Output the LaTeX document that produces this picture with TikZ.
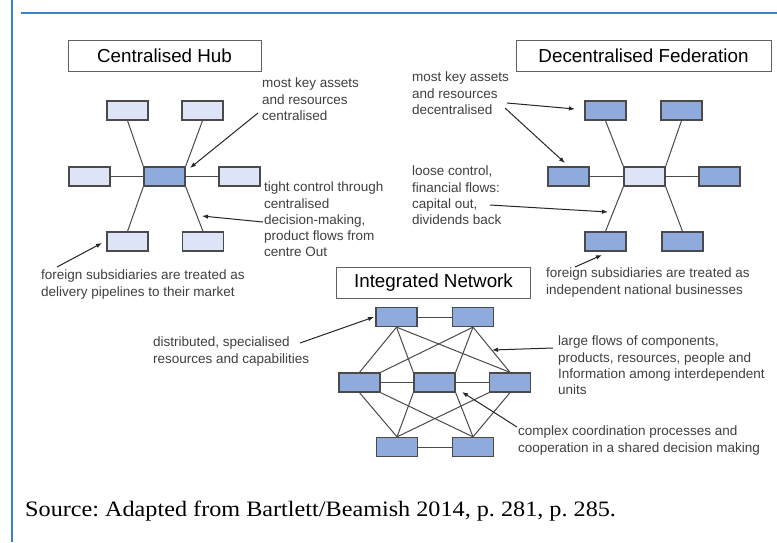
\documentclass[tikz,border=0pt]{standalone}
\usepackage{fontspec}
\setmainfont{Liberation Sans}
\newfontfamily\srcfont[FakeStretch=1.1]{Liberation Serif}
\usetikzlibrary{arrows.meta}
\definecolor{frameblue}{rgb}{0.235000,0.510000,0.784000}
\definecolor{unitlight}{rgb}{0.867000,0.894000,0.973000}
\definecolor{unitdark}{rgb}{0.561000,0.667000,0.863000}
\definecolor{edgegray}{rgb}{0.290000,0.290000,0.290000}
\definecolor{titlegray}{rgb}{0.380000,0.380000,0.380000}
\definecolor{notegray}{rgb}{0.250000,0.250000,0.250000}
\tikzset{
  unit/.style={draw=edgegray, line width=1.3pt, inner sep=0pt,
    minimum width=41pt, minimum height=19pt},
  light/.style={unit, fill=unitlight},
  dark/.style={unit, fill=unitdark},
  titlebox/.style={draw=titlegray, line width=1pt, fill=white, inner sep=0pt,
    minimum height=31pt, font=\fontsize{18.8}{22}\selectfont},
  note/.style={anchor=north west, inner sep=0pt, align=left, text=notegray,
    font=\fontsize{13.5}{16.2}\selectfont},
  link/.style={draw=edgegray, line width=1pt},
  pointer/.style={draw=black!85, line width=1pt, -{Latex[length=6pt,width=4.5pt]}}
}
\begin{document}
\frenchspacing
\begin{tikzpicture}[x=1pt, y=-1pt]
\useasboundingbox (0.000000,0.000000) rectangle (777.000000,542.000000);%

% Page frame lines
\fill [white] (0.000000,0.000000) rectangle (777.000000,542.000000);%
\draw [frameblue, line width=2pt] (12.000000,0.000000) -- (12.000000,542.000000);%
\draw [frameblue, line width=2.5pt] (21.000000,13.000000) -- (777.000000,13.000000);%

% ---------------- Centralised hub ----------------
\node [titlebox, minimum width=193pt] (hubtitle) at (164.500000,55.500000) {Centralised Hub};%

% Marking the units of the hub
\node [light] (hubtl) at (127.500000,110.500000) {};%
\node [light] (hubtr) at (202.500000,110.500000) {};%
\node [light] (hubl) at (89.500000,176.500000) {};%
\node [dark] (hubc) at (164.500000,176.500000) {};%
\node [light] (hubr) at (239.500000,176.500000) {};%
\node [light] (hubbl) at (127.500000,241.500000) {};%
\node [light] (hubbr) at (203.000000,241.500000) {};%

% Drawing spokes of the hub
\draw [link] (hubtl.south) -- (hubc.north west);%
\draw [link] (hubtr.south) -- (hubc.north east);%
\draw [link] (hubbl.north) -- (hubc.south west);%
\draw [link] (hubbr.north) -- (hubc.south east);%
\draw [link] (hubl.east) -- (hubc.west);%
\draw [link] (hubc.east) -- (hubr.west);%

% Marking notes of the hub
\node [note] (hubassets) at (262.000000,78.000000) {most key assets\\and resources\\centralised};%
\node [note] (hubcontrol) at (264.000000,182.000000) {tight control through\\centralised\\decision-making,\\product flows from\\centre Out};%
\node [note] (hubforeign) at (41.000000,270.000000) {foreign subsidiaries are treated as\\delivery pipelines to their market};%

\coordinate (hubassetsfrom) at (258.000000,113.000000);%
\coordinate (hubassetsto) at (190.000000,168.000000);%
\coordinate (hubcontrolfrom) at (263.000000,222.000000);%
\coordinate (hubcontrolto) at (202.000000,216.000000);%
\coordinate (hubforeignfrom) at (57.000000,267.000000);%
\coordinate (hubforeignto) at (102.000000,243.000000);%
\draw [pointer] (hubassetsfrom) -- (hubassetsto);%
\draw [pointer] (hubcontrolfrom) -- (hubcontrolto);%
\draw [pointer] (hubforeignfrom) -- (hubforeignto);%

% ---------------- Decentralised federation ----------------
\node [titlebox, minimum width=255pt] (fedtitle) at (643.500000,55.500000) {Decentralised Federation};%

% Marking the units of the federation
\node [dark] (fedtl) at (605.500000,110.500000) {};%
\node [dark] (fedtr) at (681.500000,110.500000) {};%
\node [dark] (fedl) at (568.500000,176.500000) {};%
\node [light] (fedc) at (644.500000,176.500000) {};%
\node [dark] (fedr) at (719.500000,176.500000) {};%
\node [dark] (fedbl) at (605.500000,241.500000) {};%
\node [dark] (fedbr) at (682.500000,241.500000) {};%

% Drawing spokes of the federation
\draw [link] (fedtl.south) -- (fedc.north west);%
\draw [link] (fedtr.south) -- (fedc.north east);%
\draw [link] (fedbl.north) -- (fedc.south west);%
\draw [link] (fedbr.north) -- (fedc.south east);%
\draw [link] (fedl.east) -- (fedc.west);%
\draw [link] (fedc.east) -- (fedr.west);%

% Marking notes of the federation
\node [note] (fedassets) at (412.000000,72.000000) {most key assets\\and resources\\decentralised};%
\node [note] (fedcontrol) at (412.000000,166.000000) {loose control,\\financial flows:\\capital out,\\dividends back};%
\node [note] (fedforeign) at (546.000000,268.000000) {foreign subsidiaries are treated as\\independent national businesses};%

\coordinate (fedassetsfrom) at (507.000000,103.000000);%
\coordinate (fedassetsto) at (575.000000,109.000000);%
\coordinate (fedassetsfromb) at (505.000000,108.000000);%
\coordinate (fedassetstob) at (565.000000,163.000000);%
\coordinate (fedcontrolfrom) at (490.000000,205.000000);%
\coordinate (fedcontrolto) at (608.000000,212.000000);%
\coordinate (fedforeignfrom) at (575.000000,267.000000);%
\coordinate (fedforeignto) at (602.000000,255.000000);%
\draw [pointer] (fedassetsfrom) -- (fedassetsto);%
\draw [pointer] (fedassetsfromb) -- (fedassetstob);%
\draw [pointer] (fedcontrolfrom) -- (fedcontrolto);%
\draw [pointer] (fedforeignfrom) -- (fedforeignto);%

% ---------------- Integrated network ----------------
\node [titlebox, minimum width=194pt] (nettitle) at (433.500000,283.000000) {Integrated Network};%

% Marking the units of the network
\node [dark] (nettl) at (396.500000,317.000000) {};%
\node [dark] (nettr) at (473.000000,317.000000) {};%
\node [dark] (netml) at (359.500000,382.500000) {};%
\node [dark] (netc) at (434.500000,382.500000) {};%
\node [dark] (netmr) at (510.000000,382.500000) {};%
\node [dark] (netbl) at (397.000000,447.000000) {};%
\node [dark] (netbr) at (473.000000,447.000000) {};%

% Drawing links of the network
\draw [link] (nettl.east) -- (nettr.west);%
\draw [link] (netml.east) -- (netc.west);%
\draw [link] (netc.east) -- (netmr.west);%
\draw [link] (netbl.east) -- (netbr.west);%
\draw [link] (nettl.south) -- (netml.north);%
\draw [link] (nettl.south) -- (netc.north west);%
\draw [link] (nettl.south) -- (netmr.north);%
\draw [link] (nettr.south) -- (netml.north east);%
\draw [link] (nettr.south) -- (netc.north east);%
\draw [link] (nettr.south) -- (netmr.north);%
\draw [link] (netbl.north) -- (netml.south);%
\draw [link] (netbl.north) -- (netc.south west);%
\draw [link] (netbl.north) -- (netmr.south west);%
\draw [link] (netbr.north) -- (netml.south east);%
\draw [link] (netbr.north) -- (netc.south east);%
\draw [link] (netbr.north) -- (netmr.south);%

% Marking notes of the network
\node [note] (netspecial) at (153.000000,337.000000) {distributed, specialised\\resources and capabilities};%
\node [note] (netflows) at (558.000000,336.000000) {large flows of components,\\products, resources, people and\\Information among interdependent\\units};%
\node [note] (netcoord) at (518.000000,426.000000) {complex coordination processes and\\cooperation in a shared decision making};%

\coordinate (netspecialfrom) at (300.000000,343.000000);%
\coordinate (netspecialto) at (374.000000,317.000000);%
\coordinate (netflowsfrom) at (553.000000,348.000000);%
\coordinate (netflowsto) at (492.000000,350.000000);%
\coordinate (netcoordfrom) at (517.000000,427.000000);%
\coordinate (netcoordto) at (462.000000,392.000000);%
\draw [pointer] (netspecialfrom) -- (netspecialto);%
\draw [pointer] (netflowsfrom) -- (netflowsto);%
\draw [pointer] (netcoordfrom) -- (netcoordto);%

% Source line
\node [anchor=base west, inner sep=0pt, font=\srcfont\fontsize{22}{26}\selectfont] (source) at (25.000000,516.000000) {Source: Adapted from Bartlett/Beamish 2014, p. 281, p. 285.};%
\end{tikzpicture}
\end{document}
